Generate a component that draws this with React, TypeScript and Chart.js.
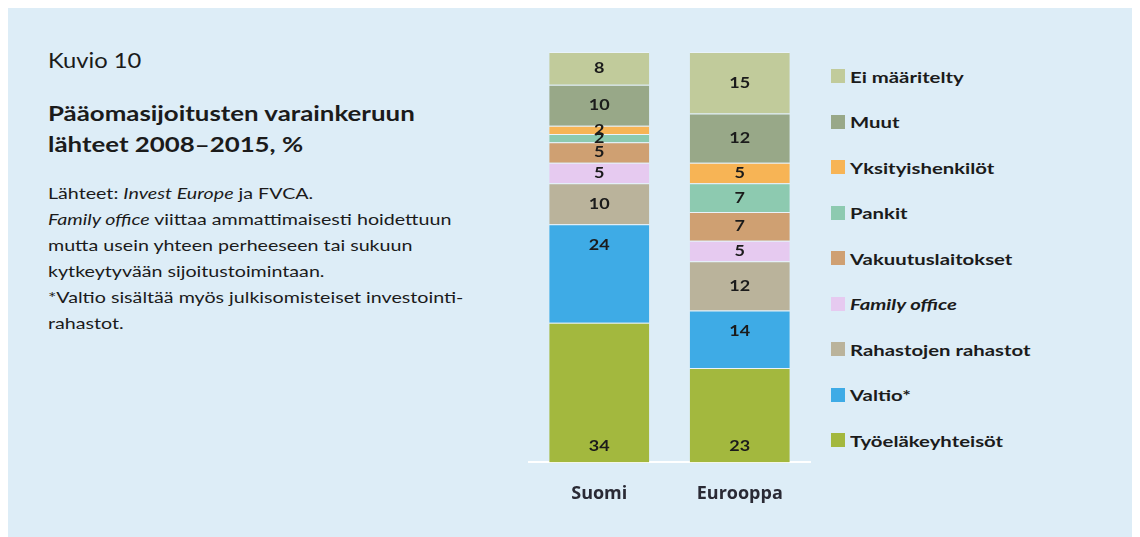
import React, { useEffect, useRef } from "react";
import { Chart, registerables } from "chart.js";

Chart.register(...registerables);

const categories = ["Suomi", "Eurooppa"];
const seriesNames = [
  "Työeläkeyhteisöt",
  "Valtio*",
  "Rahastojen rahastot",
  "Family office",
  "Vakuutuslaitokset",
  "Pankit",
  "Yksityishenkilöt",
  "Muut",
  "Ei määritelty",
];
const tyoelake = [34, 23];
const valtio = [24, 14];
const rahastot = [10, 12];
const familyOffice = [5, 5];
const vakuutus = [5, 7];
const pankit = [2, 7];
const yksityis = [2, 5];
const muut = [10, 12];
const eiMaaritelty = [8, 15];
const seriesValues = [tyoelake, valtio, rahastot, familyOffice, vakuutus, pankit, yksityis, muut, eiMaaritelty];

const colors = ["#a3b83e", "#3eabe6", "#bab39b", "#e6caf0", "#cfa072", "#8dcab0", "#f7b455", "#98a888", "#c1cb9b"];
const anchors = ["start", "end", "center", "center", "center", "center", "center", "center", "center"];

const FONT = "Lato, 'Open Sans', sans-serif";
const TEXT = "#1b1b1b";

const labelPlugin = {
  id: "segLabels",
  afterDatasetsDraw(chart: any) {
    const ctx = chart.ctx;
    chart.data.datasets.forEach((ds: any, di: number) => {
      const meta = chart.getDatasetMeta(di);
      meta.data.forEach((el: any, i: number) => {
        const v = ds.data[i];
        const top = Math.min(el.y, el.base);
        const bot = Math.max(el.y, el.base);
        let y = (top + bot) / 2;
        if (anchors[di] === "start") y = bot - 16;
        if (anchors[di] === "end") y = top + 21;
        ctx.save();
        ctx.translate(el.x, y);
        ctx.scale(1.2, 1);
        ctx.font = `bold 15px ${FONT}`;
        ctx.fillStyle = TEXT;
        ctx.textAlign = "center";
        ctx.textBaseline = "middle";
        ctx.fillText(String(v), 0, 0);
        ctx.restore();
      });
    });
  },
};

function ChartBox() {
  const ref = useRef<HTMLCanvasElement>(null);
  useEffect(() => {
    if (!ref.current) return;
    const chart = new Chart(ref.current, {
      type: "bar",
      data: {
        labels: categories,
        datasets: seriesValues.map((vals, i) => ({
          label: seriesNames[i],
          data: vals,
          backgroundColor: colors[i],
          borderColor: "rgba(255,255,255,0.35)",
          borderWidth: { top: 1, left: 0, right: 0, bottom: 0 },
          borderSkipped: false,
          barPercentage: 0.712,
          categoryPercentage: 1,
        })),
      },
      options: {
        animation: false,
        responsive: true,
        maintainAspectRatio: false,
        layout: { padding: { left: 20, right: 20, top: 12, bottom: 16 } },
        plugins: { legend: { display: false }, tooltip: { enabled: false } },
        scales: {
          x: {
            stacked: true,
            grid: { display: false, drawTicks: false },
            border: { display: true, color: "#ffffff", width: 2 },
            ticks: { color: "#2a2a35", font: { family: "'Open Sans', sans-serif", size: 18, weight: "bold" }, padding: 21 },
          },
          y: { stacked: true, display: false, min: 0, max: 100 },
        },
      },
      plugins: [labelPlugin],
    });
    return () => chart.destroy();
  }, []);
  return <canvas ref={ref} />;
}

const legendOrder = [8, 7, 6, 5, 4, 3, 2, 1, 0];

const stretch = (s: number): React.CSSProperties => ({ transform: `scaleX(${s})`, transformOrigin: "left center", whiteSpace: "nowrap" });

export default function App() {
  return (
    <div style={{ position: "relative", width: 1132, height: 529, background: "#ddedf7", fontFamily: FONT, color: TEXT, overflow: "hidden" }}>
      <div style={{ position: "absolute", left: 40, top: 38, fontSize: 21, lineHeight: "28px", ...stretch(1.13) }}>Kuvio 10</div>
      <div style={{ position: "absolute", left: 40, top: 89, fontSize: 21, lineHeight: "31px", fontWeight: "bold", ...stretch(1.23) }}>
        Pääomasijoitusten varainkeruun
        <br />
        lähteet 2008–2015, %
      </div>
      <div style={{ position: "absolute", left: 40, top: 172, fontSize: 15, lineHeight: "26px", ...stretch(1.31) }}>
        Lähteet: <i>Invest Europe</i> ja FVCA.
        <br />
        <i>Family office</i> viittaa ammattimaisesti hoidettuun
        <br />
        mutta usein yhteen perheeseen tai sukuun
        <br />
        kytkeytyvään sijoitustoimintaan.
        <br />
        *Valtio sisältää myös julkisomisteiset investointi-
        <br />
        rahastot.
      </div>
      <div style={{ position: "absolute", left: 501, top: 32, width: 321, height: 502 }}>
        <ChartBox />
      </div>
      {legendOrder.map((si, k) => (
        <div key={si} style={{ position: "absolute", left: 823, top: 57 + k * 45.5, height: 22, display: "flex", alignItems: "center" }}>
          <span style={{ display: "inline-block", width: 14, height: 14, background: colors[si], marginRight: 5 }} />
          <span style={{ display: "inline-block", fontSize: 16, fontWeight: "bold", fontStyle: si === 3 ? "italic" : "normal", ...stretch(1.27) }}>{seriesNames[si]}</span>
        </div>
      ))}
    </div>
  );
}
